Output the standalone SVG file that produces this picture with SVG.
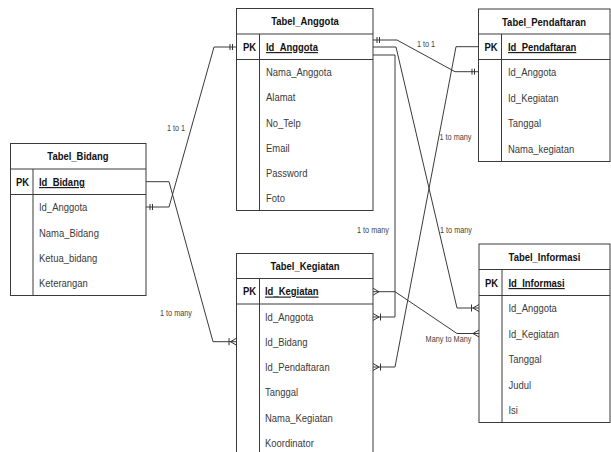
<svg xmlns="http://www.w3.org/2000/svg" width="611" height="452" viewBox="0 0 611 452">
  <style>
    .box{fill:#fff;stroke:#3a3a3a;stroke-width:1}
    .ln{fill:none;stroke:#3a3a3a;stroke-width:1}
    .mk{fill:none;stroke:#333;stroke-width:1}
    text{font-family:"Liberation Sans",Arial,Helvetica,sans-serif}
    .t{font-size:11px;fill:#3a3a3a;transform-box:fill-box;transform-origin:0 0;transform:scaleX(.86)}
    .h{font-weight:bold;fill:#111;text-anchor:middle;transform-origin:50% 0}
    .pk{font-weight:bold;fill:#111}
    .u{text-decoration:underline}
    .lbl{font-size:8.5px;fill:#444;text-anchor:middle;transform-box:fill-box;transform-origin:50% 0;transform:scaleX(.86)}
  </style>
  <defs>
    <!-- ER cardinality markers, drawn as end markers (entity at +x) -->
    <marker id="erOne" markerUnits="userSpaceOnUse" orient="auto-start-reverse" refX="0" refY="0" viewBox="-10 -5 12 10" markerWidth="12" markerHeight="10" overflow="visible">
      <path class="mk" d="M-4 -3V3M-6.5 -3V3"/>
    </marker>
    <marker id="erMany" markerUnits="userSpaceOnUse" orient="auto-start-reverse" refX="0" refY="0" viewBox="-10 -5 12 10" markerWidth="12" markerHeight="10" overflow="visible">
      <path class="mk" d="M0 -3.5L-6 0L0 3.5"/>
    </marker>
    <marker id="erOneMany" markerUnits="userSpaceOnUse" orient="auto-start-reverse" refX="0" refY="0" viewBox="-10 -5 12 10" markerWidth="12" markerHeight="10" overflow="visible">
      <path class="mk" d="M0 -3.5L-6 0L0 3.5M-7.5 -3.5V3.5"/>
    </marker>
  </defs>

  <!-- relationships -->
  <g id="connectors">
    <path class="ln" d="M146 207H169L214 47H236.5" marker-start="url(#erOne)" marker-end="url(#erOne)"/>
    <path class="ln" d="M146 181.7H169L213 341.7H236.5" marker-end="url(#erOneMany)"/>
    <path class="ln" d="M373 40H397L455 71.7H478.5" marker-start="url(#erOne)" marker-end="url(#erOne)"/>
    <path class="ln" d="M373 47H396L457 308H479" marker-end="url(#erOneMany)"/>
    <path class="ln" d="M373 55H395V317H373" marker-end="url(#erOneMany)"/>
    <path class="ln" d="M478.5 46.7H456L395 367H373" marker-end="url(#erOneMany)"/>
    <path class="ln" d="M373 291.7H395L457 333.5H479" marker-start="url(#erMany)" marker-end="url(#erMany)"/>
    <text class="lbl" x="176" y="131">1 to 1</text>
    <text class="lbl" x="176" y="316">1 to many</text>
    <text class="lbl" x="426" y="47">1 to 1</text>
    <text class="lbl" x="456" y="233">1 to many</text>
    <text class="lbl" x="373" y="233">1 to many</text>
    <text class="lbl" x="455.5" y="140">1 to many</text>
    <text class="lbl" x="448.5" y="342">Many to Many</text>
  </g>

  <g id="tabel-bidang">
    <rect class="box" x="10.5" y="143.5" width="135.5" height="152"/>
    <path class="ln" d="M10.5 169H146M10.5 194.5H146M33 169V295.5"/>
    <text class="t h" x="78" y="160.5">Tabel_Bidang</text>
    <text class="t pk" x="16" y="186">PK</text>
    <text class="t pk u" x="39" y="186">Id_Bidang</text>
    <text class="t" x="39" y="211.5">Id_Anggota</text>
    <text class="t" x="39" y="237">Nama_Bidang</text>
    <text class="t" x="39" y="262">Ketua_bidang</text>
    <text class="t" x="39" y="287.5">Keterangan</text>
  </g>

  <g id="tabel-anggota">
    <rect class="box" x="236.5" y="8.5" width="136.5" height="202"/>
    <path class="ln" d="M236.5 34H373M236.5 59.5H373M259.5 34V210.5"/>
    <text class="t h" x="305" y="25.5">Tabel_Anggota</text>
    <text class="t pk" x="243" y="51">PK</text>
    <text class="t pk u" x="266" y="51">Id_Anggota</text>
    <text class="t" x="266" y="76.5">Nama_Anggota</text>
    <text class="t" x="266" y="101.5">Alamat</text>
    <text class="t" x="266" y="127">No_Telp</text>
    <text class="t" x="266" y="152">Email</text>
    <text class="t" x="266" y="177.5">Password</text>
    <text class="t" x="266" y="202.5">Foto</text>
  </g>

  <g id="tabel-pendaftaran">
    <rect class="box" x="478.5" y="9" width="131.5" height="152.5"/>
    <path class="ln" d="M478.5 34H610M478.5 59.5H610M501.5 34V161.5"/>
    <text class="t h" x="544" y="26">Tabel_Pendaftaran</text>
    <text class="t pk" x="484.5" y="51">PK</text>
    <text class="t pk u" x="508" y="51">Id_Pendaftaran</text>
    <text class="t" x="508" y="76.5">Id_Anggota</text>
    <text class="t" x="508" y="102">Id_Kegiatan</text>
    <text class="t" x="508" y="127.5">Tanggal</text>
    <text class="t" x="508" y="153">Nama_kegiatan</text>
  </g>

  <g id="tabel-kegiatan">
    <rect class="box" x="236.5" y="253.5" width="136.5" height="210"/>
    <path class="ln" d="M236.5 278.5H373M236.5 304H373M259.5 278.5V463.5"/>
    <text class="t h" x="305" y="270.5">Tabel_Kegiatan</text>
    <text class="t pk" x="243" y="295.5">PK</text>
    <text class="t pk u" x="265" y="295.5">Id_Kegiatan</text>
    <text class="t" x="265" y="321">Id_Anggota</text>
    <text class="t" x="265" y="346">Id_Bidang</text>
    <text class="t" x="265" y="371.5">Id_Pendaftaran</text>
    <text class="t" x="265" y="396.5">Tanggal</text>
    <text class="t" x="265" y="422">Nama_Kegiatan</text>
    <text class="t" x="265" y="447.5">Koordinator</text>
  </g>

  <g id="tabel-informasi">
    <rect class="box" x="479" y="244" width="131" height="178.5"/>
    <path class="ln" d="M479 269.5H610M479 295.5H610M502 269.5V422.5"/>
    <text class="t h" x="544.5" y="261">Tabel_Informasi</text>
    <text class="t pk" x="485" y="287">PK</text>
    <text class="t pk u" x="508.5" y="287">Id_Informasi</text>
    <text class="t" x="508.5" y="312.5">Id_Anggota</text>
    <text class="t" x="508.5" y="338">Id_Kegiatan</text>
    <text class="t" x="508.5" y="363.5">Tanggal</text>
    <text class="t" x="508.5" y="389">Judul</text>
    <text class="t" x="508.5" y="414">Isi</text>
  </g>
</svg>
